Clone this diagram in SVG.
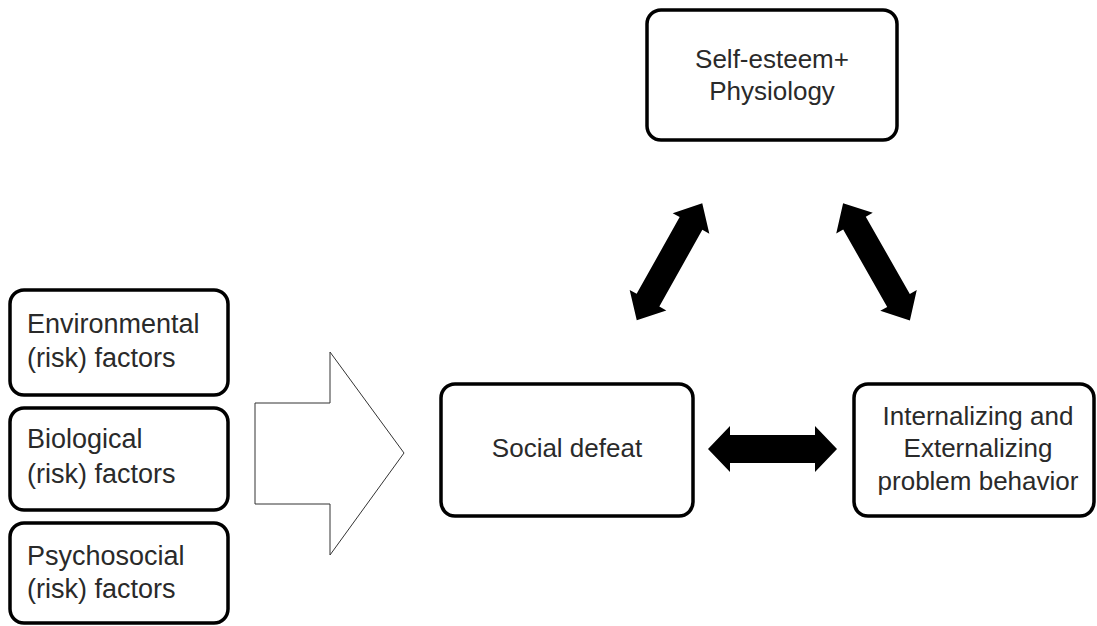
<svg xmlns="http://www.w3.org/2000/svg" width="1097" height="626" viewBox="0 0 1097 626">
<style>
.box{fill:#fff;stroke:#000;stroke-width:3.5}
.t{font-family:"Liberation Sans",Arial,sans-serif;font-size:26px;fill:#2a2a2a}
.l{font-size:27px}
.c{text-anchor:middle}
.dbl{fill:#000;stroke:none}
.blk{fill:#fff;stroke:#333;stroke-width:1}
</style>
<rect width="1097" height="626" fill="#fff"/>
<g id="connectors">
<polygon id="block-arrow" class="blk" points="255,403 330,403 330,352 404,453 330,555 330,504 255,504"/>
<polygon id="arrow-social-internal" class="dbl" points="708,449 730,426 730,435 815,435 815,426 837,449 815,472 815,463 730,463 730,472"/>
<polygon id="arrow-social-self" class="dbl" transform="translate(669.5,261.8) rotate(-60.74)" points="-67,0 -44,-21 -44,-13 44,-13 44,-21 67,0 44,21 44,13 -44,13 -44,21"/>
<polygon id="arrow-self-internal" class="dbl" transform="translate(876.5,261.8) rotate(60.35)" points="-67.5,0 -44.5,-21 -44.5,-13 44.5,-13 44.5,-21 67.5,0 44.5,21 44.5,13 -44.5,13 -44.5,21"/>
</g>
<g id="self-esteem">
<rect class="box" x="647" y="10" width="250" height="130" rx="14"/>
<text class="t c" x="772" y="68">Self-esteem+</text>
<text class="t c" x="772" y="100">Physiology</text>
</g>
<g id="environmental">
<rect class="box" x="10" y="290" width="218" height="105" rx="14"/>
<text class="t l" x="27" y="333">Environmental</text>
<text class="t l" x="27" y="367">(risk) factors</text>
</g>
<g id="biological">
<rect class="box" x="10" y="408" width="218" height="102" rx="14"/>
<text class="t l" x="27" y="448">Biological</text>
<text class="t l" x="27" y="483">(risk) factors</text>
</g>
<g id="psychosocial">
<rect class="box" x="10" y="523" width="218" height="100" rx="14"/>
<text class="t l" x="27" y="565">Psychosocial</text>
<text class="t l" x="27" y="598">(risk) factors</text>
</g>
<g id="social-defeat">
<rect class="box" x="441" y="384" width="252" height="132" rx="14"/>
<text class="t c" x="567" y="457">Social defeat</text>
</g>
<g id="problem-behavior">
<rect class="box" x="854" y="384" width="240" height="132" rx="14"/>
<text class="t c" x="978" y="425">Internalizing and</text>
<text class="t c" x="978" y="457">Externalizing</text>
<text class="t c" x="978" y="490">problem behavior</text>
</g>
</svg>
